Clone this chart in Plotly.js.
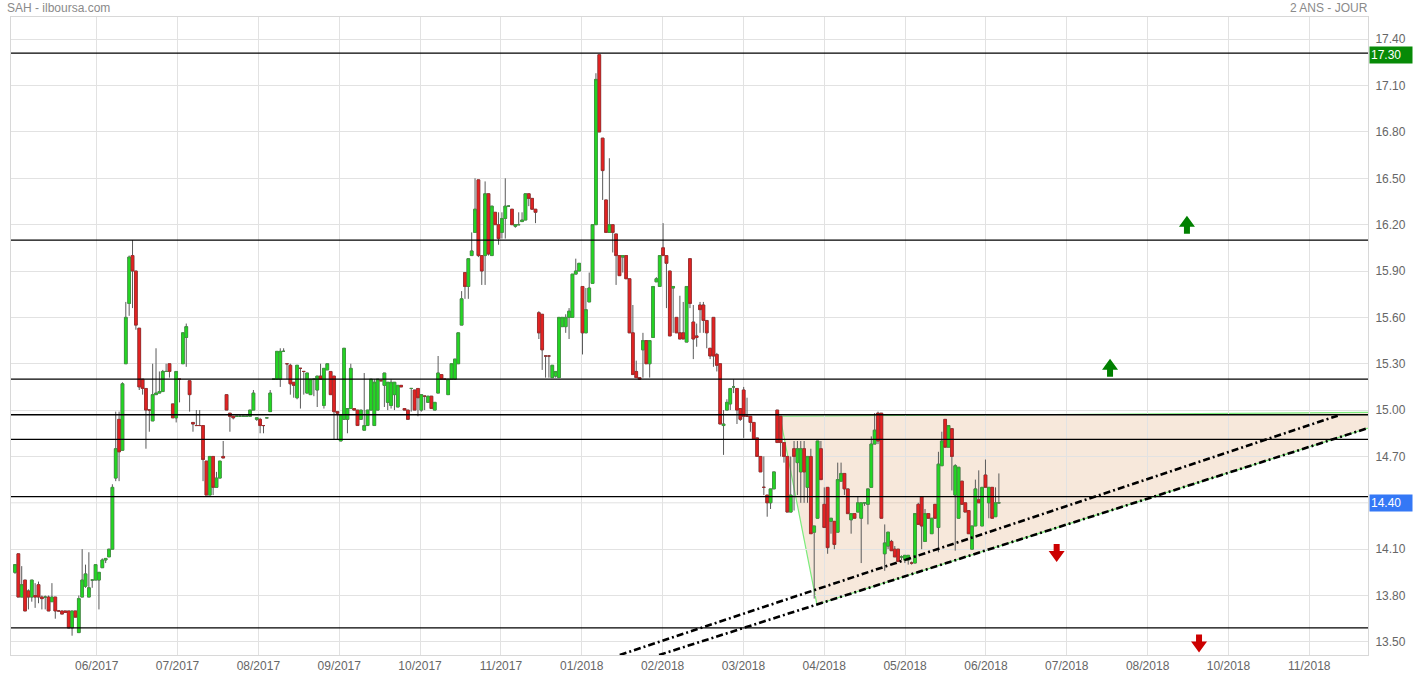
<!DOCTYPE html>
<html><head><meta charset="utf-8">
<script src="https://cdn.plot.ly/plotly-3.0.1.min.js"></script>
<style>html,body{margin:0;padding:0;background:#fff;overflow:hidden}#chart{width:1413px;height:679px}</style>
</head><body><div id="chart"></div>
<script>
// ---- daily OHLC (SAH), one value per trading session, oldest first ----
const openP = [
13.95,14.07,13.79,13.90,13.83,13.79,13.80,13.87,13.79,13.79,
13.79,13.76,13.79,13.70,13.70,13.70,13.70,13.59,13.70,13.56,
13.79,13.86,13.79,13.90,13.90,13.90,13.98,14.03,14.05,14.10,
14.56,14.94,14.74,15.30,15.69,16.00,15.90,15.53,15.20,15.14,
15.00,14.93,15.10,15.11,15.12,15.25,15.30,15.04,14.95,15.20,
15.30,15.47,15.19,14.92,14.90,14.90,14.90,14.67,14.45,14.70,
14.50,14.56,14.70,15.10,14.98,14.96,14.96,14.96,14.96,14.96,
14.96,15.00,14.94,14.94,14.90,14.95,14.99,15.20,15.20,15.20,
15.38,15.30,15.29,15.18,15.08,15.27,15.25,15.11,15.10,15.20,
15.13,15.22,15.03,15.26,15.25,15.22,14.99,14.80,14.94,14.94,
15.01,15.01,15.00,14.94,14.87,14.90,15.00,14.90,15.00,15.19,
15.16,15.05,15.03,15.10,15.02,15.16,15.01,15.00,15.14,15.13,
15.14,15.00,15.09,15.05,15.09,15.00,15.11,15.23,15.20,15.10,
15.20,15.20,15.30,15.55,15.89,15.80,16.00,16.15,16.49,16.00,
16.00,16.40,16.00,16.28,16.20,16.15,16.24,16.32,16.30,16.19,
16.20,16.22,16.23,16.40,16.37,16.30,15.63,15.62,15.35,15.35,
15.21,15.22,15.21,15.54,15.54,15.60,15.60,15.88,15.90,15.80,
15.50,15.70,15.82,16.20,17.30,16.76,16.36,16.15,16.20,16.14,
16.00,15.99,16.00,15.85,15.50,15.25,15.21,15.39,15.45,15.30,
15.47,15.83,15.80,16.05,16.00,15.90,15.79,15.60,15.50,15.50,
15.44,15.98,15.57,15.48,15.68,15.68,15.58,15.40,15.60,15.36,
15.30,14.90,15.00,15.04,15.15,15.14,15.01,15.13,14.96,14.96,
14.92,14.82,14.70,14.50,14.45,14.40,14.49,15.00,14.96,14.79,
14.70,14.34,14.75,14.66,14.60,14.75,14.50,14.70,14.21,14.30,
14.75,14.39,14.50,14.28,14.28,14.21,14.54,14.59,14.49,14.29,
14.33,14.34,14.30,14.40,14.39,14.50,14.78,14.98,14.98,14.07,
14.12,14.15,14.10,14.10,14.05,14.03,14.03,14.01,14.01,14.39,
14.44,14.15,14.33,14.20,14.39,14.24,14.64,14.94,14.76,14.88,
14.45,14.30,14.54,14.40,14.35,14.10,14.25,14.42,14.25,14.58,
14.40,14.50,14.31,14.40];
const highP = [
14.00,14.07,13.99,13.90,13.84,13.90,13.88,13.89,13.80,13.80,
13.80,13.88,13.79,13.70,13.70,13.70,13.70,13.70,13.70,13.80,
14.10,14.00,14.08,13.90,14.00,13.95,14.04,14.04,14.10,14.52,
14.99,14.99,15.18,15.70,16.00,16.10,15.90,15.53,15.20,15.14,
15.00,15.30,15.40,15.25,15.26,15.30,15.30,15.04,15.25,15.20,
15.50,15.56,15.19,14.92,15.00,15.00,14.90,14.67,14.70,14.70,
14.60,14.67,14.80,15.10,14.98,14.96,14.96,14.96,14.96,14.96,
15.00,15.13,14.95,14.95,14.90,14.95,15.13,15.20,15.38,15.40,
15.40,15.30,15.30,15.18,15.29,15.27,15.25,15.24,15.20,15.20,
15.22,15.30,15.27,15.30,15.25,15.22,14.99,14.97,15.40,15.01,
15.30,15.01,15.00,15.00,15.24,15.00,15.20,15.20,15.20,15.20,
15.24,15.18,15.20,15.18,15.16,15.16,15.01,15.00,15.14,15.13,
15.14,15.10,15.09,15.09,15.09,15.05,15.35,15.23,15.20,15.20,
15.30,15.33,15.50,15.77,15.89,15.98,16.15,16.50,16.49,16.00,
16.48,16.40,16.32,16.28,16.28,16.28,16.50,16.32,16.30,16.20,
16.28,16.28,16.40,16.40,16.37,16.30,15.64,15.62,15.35,15.35,
15.29,15.25,15.60,15.60,15.62,15.66,15.88,15.98,15.95,15.80,
15.79,15.89,16.20,17.18,17.30,16.76,16.36,16.63,16.20,16.14,
16.00,16.00,16.00,15.85,15.68,15.32,15.21,15.50,15.45,15.45,
15.80,15.86,16.00,16.21,16.00,15.90,15.80,15.60,15.74,15.70,
15.80,15.98,15.68,15.56,15.70,15.70,15.58,15.40,15.60,15.37,
15.30,15.00,15.07,15.14,15.20,15.14,15.01,15.15,15.08,14.96,
14.92,14.82,14.70,14.70,14.45,14.49,14.60,15.00,14.96,14.79,
14.70,14.70,14.80,14.80,14.80,14.80,14.70,14.75,14.25,14.80,
14.80,14.50,14.50,14.30,14.28,14.66,14.66,14.59,14.49,14.33,
14.33,14.44,14.40,14.40,14.49,14.83,14.98,14.99,14.98,14.26,
14.21,14.16,14.12,14.10,14.06,14.06,14.06,14.02,14.33,14.40,
14.44,14.36,14.33,14.30,14.39,14.73,14.86,14.94,14.90,14.88,
14.65,14.63,14.54,14.40,14.35,14.25,14.55,14.61,14.50,14.68,
14.50,14.50,14.50,14.59];
const lowP = [
13.94,13.79,13.79,13.70,13.71,13.76,13.72,13.75,13.71,13.71,
13.70,13.76,13.65,13.70,13.68,13.69,13.59,13.54,13.66,13.56,
13.79,13.85,13.79,13.85,13.90,13.71,13.98,14.01,14.05,14.10,
14.54,14.54,14.74,15.30,15.61,15.66,15.52,15.13,15.10,14.75,
14.86,14.93,15.10,15.11,15.12,15.25,15.21,14.95,14.92,15.05,
15.30,15.28,14.99,14.86,14.90,14.90,14.54,14.45,14.45,14.45,
14.50,14.56,14.69,15.00,14.86,14.94,14.96,14.96,14.96,14.96,
14.96,15.00,14.93,14.85,14.85,14.95,14.99,15.20,15.20,15.15,
15.38,15.20,15.10,15.08,15.07,15.01,15.10,15.11,15.10,15.09,
15.02,15.20,15.01,15.26,15.10,14.81,14.81,14.80,14.94,14.85,
15.01,15.00,14.90,14.94,14.87,14.90,15.00,14.90,15.00,15.19,
15.02,15.00,15.01,15.00,15.02,15.15,15.00,14.94,14.99,15.00,
14.96,14.99,15.00,15.05,15.01,15.00,15.11,15.20,15.20,15.10,
15.20,15.20,15.30,15.55,15.72,15.72,16.00,16.15,15.99,15.81,
15.81,16.00,16.00,16.20,16.07,16.11,16.11,16.32,16.20,16.18,
16.20,16.22,16.23,16.32,16.30,16.21,15.46,15.26,15.21,15.21,
15.21,15.21,15.21,15.54,15.50,15.46,15.60,15.88,15.90,15.36,
15.50,15.70,15.82,16.20,16.80,16.36,16.15,16.15,16.02,15.81,
15.87,15.89,15.85,15.50,15.23,15.21,15.20,15.21,15.30,15.21,
15.47,15.83,15.80,16.00,15.66,15.48,15.50,15.50,15.46,15.46,
15.44,15.66,15.33,15.41,15.50,15.50,15.40,15.33,15.28,15.25,
14.91,14.71,15.00,15.00,15.11,14.91,14.93,14.82,14.96,14.86,
14.81,14.70,14.60,14.45,14.31,14.36,14.49,14.79,14.70,14.66,
14.34,14.34,14.35,14.45,14.40,14.40,14.40,14.20,13.78,14.30,
14.55,14.24,14.07,14.20,14.10,14.21,14.54,14.45,14.33,14.20,
14.30,14.34,14.01,14.38,14.26,14.50,14.78,14.78,14.30,13.96,
14.10,14.09,14.05,14.02,14.03,14.01,14.00,14.00,14.01,14.26,
14.10,14.15,14.30,14.20,14.30,14.08,14.64,14.76,14.76,14.48,
14.09,14.30,14.39,14.34,14.20,14.10,14.25,14.40,14.25,14.50,
14.30,14.30,14.31,14.40];
const closeP = [
14.00,13.79,13.87,13.70,13.79,13.90,13.79,13.79,13.78,13.79,
13.70,13.79,13.70,13.70,13.68,13.69,13.59,13.70,13.66,13.78,
13.90,13.94,13.85,13.90,14.00,13.95,14.03,14.04,14.10,14.50,
14.75,14.73,15.17,15.60,15.99,15.90,15.55,15.15,15.14,15.00,
15.00,15.10,15.11,15.12,15.25,15.25,15.25,14.95,15.25,15.20,
15.50,15.54,15.10,14.91,14.90,14.90,14.68,14.45,14.70,14.50,
14.56,14.67,14.69,15.00,14.96,14.95,14.96,14.96,14.96,14.96,
15.00,15.11,14.95,14.90,14.90,14.95,15.11,15.20,15.38,15.38,
15.38,15.30,15.17,15.16,15.29,15.27,15.25,15.24,15.20,15.20,
15.22,15.20,15.27,15.30,15.10,14.99,14.98,14.97,15.40,15.01,
15.27,15.00,14.90,15.00,14.90,15.00,15.20,15.18,15.20,15.19,
15.24,15.18,15.18,15.18,15.16,15.15,15.00,14.94,15.14,15.00,
15.08,15.10,15.09,15.09,15.01,15.05,15.24,15.20,15.20,15.20,
15.30,15.33,15.50,15.72,15.80,15.98,16.03,16.30,16.00,15.90,
16.40,16.01,16.32,16.20,16.11,16.24,16.32,16.32,16.20,16.20,
16.20,16.23,16.40,16.37,16.30,16.28,15.50,15.39,15.35,15.35,
15.29,15.25,15.60,15.60,15.60,15.64,15.88,15.90,15.95,15.50,
15.65,15.79,16.20,17.14,16.80,16.55,16.15,16.20,16.15,16.00,
15.87,16.00,15.85,15.50,15.23,15.21,15.20,15.45,15.30,15.45,
15.80,15.85,16.00,16.00,15.95,15.48,15.80,15.50,15.46,15.46,
15.80,15.69,15.46,15.47,15.65,15.58,15.50,15.35,15.35,15.29,
14.91,14.91,15.05,15.14,15.15,15.00,14.94,14.96,14.96,14.92,
14.81,14.70,14.60,14.50,14.40,14.49,14.60,14.79,14.79,14.70,
14.34,14.45,14.70,14.75,14.75,14.60,14.70,14.20,14.25,14.80,
14.55,14.24,14.11,14.30,14.13,14.55,14.59,14.49,14.33,14.33,
14.30,14.40,14.40,14.40,14.49,14.78,14.87,14.80,14.30,14.14,
14.21,14.09,14.05,14.02,14.05,14.06,14.06,14.01,14.33,14.26,
14.25,14.33,14.30,14.30,14.30,14.65,14.80,14.76,14.90,14.70,
14.64,14.63,14.39,14.34,14.20,14.25,14.49,14.40,14.50,14.50,
14.50,14.30,14.40,14.40];

// x-axis tick labels (one per grid line)
const monthLabels = ["06/2017","07/2017","08/2017","09/2017","10/2017","11/2017","01/2018",
  "02/2018","03/2018","04/2018","05/2018","06/2018","07/2018","08/2018","10/2018","11/2018"];

// horizontal support / resistance levels
const levels = [17.31, 16.10, 15.20, 14.97, 14.81, 14.44, 13.59];
const markedHigh = 17.30;
const lastPrice = 14.40;

// analysis drawings: [session index, price]
const triangle = [[227.8,14.96],[238.8,13.742],[404,14.891],[404,14.985]];
const trendUpper = [[180.1,13.415],[393.9,14.964]];
const trendLower = [[191.8,13.415],[404,14.891]];
const arrowsUp = [[349.0,16.142],[326.1,15.216]];
const arrowsDown = [[310.2,14.133],[352.6,13.548]];

// ---------------------------------------------------------------
const idx = openP.map((_, i) => i);
const hi = highP.map((h, i) => Math.max(h, openP[i], closeP[i]));
const lo = lowP.map((l, i) => Math.min(l, openP[i], closeP[i]));
const bodyHi = openP.map((o, i) => Math.max(o, closeP[i]));
const bodyLo = openP.map((o, i) => Math.min(o, closeP[i]));

const FONT = 'Arial, "Liberation Sans", sans-serif';
const GREEN = '#22d822', RED = '#e42222';

const wicks = {
  type: 'candlestick', x: idx, open: openP, high: hi, low: lo, close: closeP,
  increasing: {line: {color: '#5a5a5a', width: 1}, fillcolor: GREEN},
  decreasing: {line: {color: '#5a5a5a', width: 1}, fillcolor: RED},
  whiskerwidth: 0, hoverinfo: 'skip', showlegend: false
};
const bodies = {
  type: 'candlestick', x: idx, open: openP, high: bodyHi, low: bodyLo, close: closeP,
  increasing: {line: {color: '#3c9e3c', width: 0.6}, fillcolor: GREEN},
  decreasing: {line: {color: '#a82626', width: 0.6}, fillcolor: RED},
  whiskerwidth: 0, hoverinfo: 'skip', showlegend: false
};

const shapes = [];
shapes.push({
  type: 'path', xref: 'x', yref: 'y', layer: 'below',
  path: 'M' + triangle.map(p => p[0] + ',' + p[1]).join(' L') + ' Z',
  fillcolor: 'rgba(228,178,135,0.30)', line: {color: '#7ceb7c', width: 1.2}
});
levels.forEach(v => shapes.push({
  type: 'line', xref: 'paper', x0: 0, x1: 1, yref: 'y', y0: v, y1: v,
  line: {color: '#000', width: 1.3}
}));
[trendUpper, trendLower].forEach(t => shapes.push({
  type: 'line', xref: 'x', yref: 'y', x0: t[0][0], y0: t[0][1], x1: t[1][0], y1: t[1][1],
  line: {color: '#000', width: 2.6, dash: '7px,3px,2px,3px'}
}));
arrowsUp.forEach(a => shapes.push({
  type: 'path', xref: 'x', yref: 'y', xsizemode: 'pixel', ysizemode: 'pixel',
  xanchor: a[0], yanchor: a[1], path: 'M-3,0 L3,0 L3,7 L8,7 L0,18 L-8,7 L-3,7 Z',
  fillcolor: '#008000', line: {width: 0}
}));
arrowsDown.forEach(a => shapes.push({
  type: 'path', xref: 'x', yref: 'y', xsizemode: 'pixel', ysizemode: 'pixel',
  xanchor: a[0], yanchor: a[1], path: 'M-3,0 L3,0 L3,-7 L8,-7 L0,-18 L-8,-7 L-3,-7 Z',
  fillcolor: '#cc0000', line: {width: 0}
}));

const pxPerSession = 3.358;
const tickvals = monthLabels.map((_, k) => 24.33 + k * 80.84 / pxPerSession);

// price ticks every 0.30; the one under the last-price badge is covered by the badge
const priceTicks = [];
for (let k = 0; k <= 13; k++) {
  const v = +(13.5 + 0.3 * k).toFixed(2);
  if (Math.abs(v - lastPrice) > 0.001) priceTicks.push(v);
}

const annotations = [
  {xref: 'paper', yref: 'paper', x: 0, y: 1, xanchor: 'left', yanchor: 'middle', xshift: -6, yshift: 9,
   text: 'SAH - ilboursa.com', showarrow: false, font: {family: FONT, size: 12, color: '#8a8a8a'}},
  {xref: 'paper', yref: 'paper', x: 1, y: 1, xanchor: 'right', yanchor: 'middle', xshift: 2, yshift: 9,
   text: '2 ANS - JOUR', showarrow: false, font: {family: FONT, size: 12, color: '#8a8a8a'}},
  {xref: 'paper', yref: 'y', x: 1, y: markedHigh, xanchor: 'left', yanchor: 'middle', xshift: 1,
   text: markedHigh.toFixed(2), showarrow: false, bgcolor: '#078a07', width: 40, height: 14, align: 'left',
   borderpad: 1, font: {family: FONT, size: 12, color: '#fff'}},
  {xref: 'paper', yref: 'y', x: 1, y: lastPrice, xanchor: 'left', yanchor: 'middle', xshift: 1,
   text: lastPrice.toFixed(2), showarrow: false, bgcolor: '#3478f6', width: 40, height: 14, align: 'left',
   borderpad: 1, font: {family: FONT, size: 12, color: '#fff'}}
];

const layout = {
  width: 1413, height: 679,
  margin: {l: 11, r: 45, t: 17, b: 24, pad: 0},
  paper_bgcolor: '#fff', plot_bgcolor: '#fff',
  font: {family: FONT, size: 12, color: '#666'},
  showlegend: false, hovermode: false,
  boxgap: 0.1, boxgroupgap: 0.1,
  xaxis: {
    type: 'linear', range: [-1.19, (1368 - 15) / pxPerSession],
    tickmode: 'array', tickvals: tickvals, ticktext: monthLabels,
    showgrid: true, gridcolor: '#e2e2e2', gridwidth: 1,
    showline: true, mirror: true, linecolor: '#d8d8d8', linewidth: 1,
    zeroline: false, ticks: '', rangeslider: {visible: false},
    tickfont: {family: FONT, size: 12, color: '#666'}, fixedrange: true
  },
  yaxis: {
    side: 'right', range: [13.415, 17.544],
    tickmode: 'array', tickvals: priceTicks, ticktext: priceTicks.map(v => v.toFixed(2)),
    showgrid: true, gridcolor: '#e2e2e2', gridwidth: 1,
    showline: true, mirror: true, linecolor: '#d8d8d8', linewidth: 1,
    zeroline: false, ticks: '', ticklabelstandoff: 4,
    tickfont: {family: FONT, size: 12, color: '#666'}, fixedrange: true
  },
  shapes: shapes,
  annotations: annotations
};
// keep the grid line at the last-price level even though its label is hidden
layout.shapes.unshift({
  type: 'line', xref: 'paper', x0: 0, x1: 1, yref: 'y', y0: lastPrice, y1: lastPrice,
  layer: 'below', line: {color: '#e2e2e2', width: 1}
});

Plotly.newPlot('chart', [wicks, bodies], layout, {staticPlot: true, displayModeBar: false});
</script>
</body></html>
